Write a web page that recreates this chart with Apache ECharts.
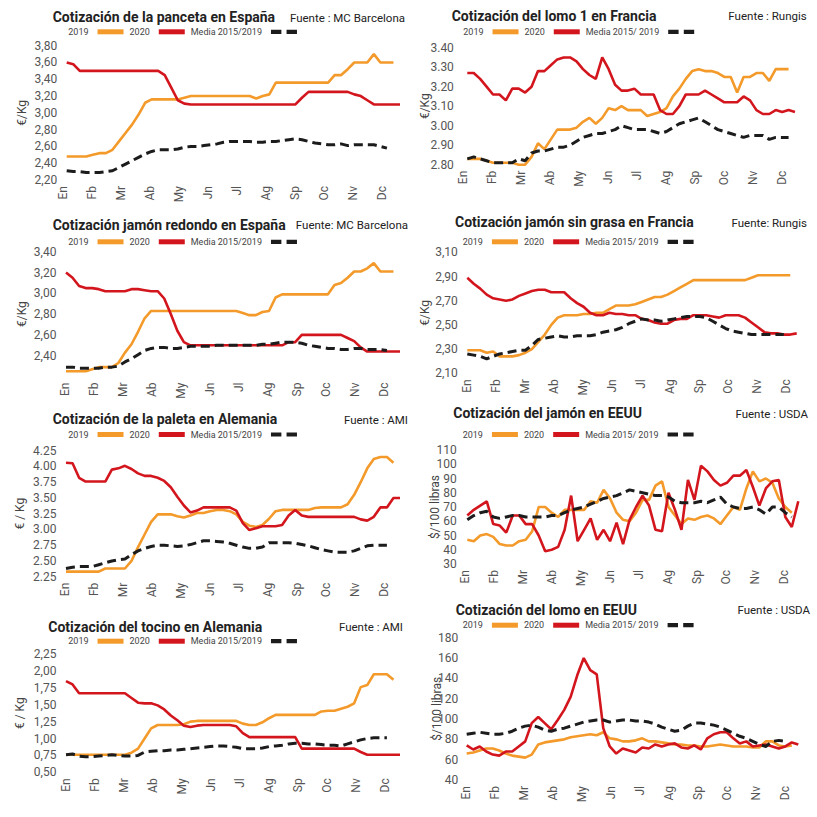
<!DOCTYPE html>
<html><head><meta charset="utf-8">
<script src="https://cdn.jsdelivr.net/npm/echarts@6/dist/echarts.min.js"></script>
<style>html,body{margin:0;padding:0;background:#fff}#c{width:817px;height:817px}</style>
</head><body><div id="c"></div>
<script>
// ---------- tick labels / categories ----------
const months = ['En','Fb','Mr','Ab','My','Jn','Jl','Ag','Sp','Oc','Nv','Dc'];
const name2019 = '2019';
const name2020 = '2020';
const nameMediaL = 'Media 2015/2019';
const nameMediaR = 'Media 2015/ 2019';

// ---------- data (weekly values) ----------
// Panceta España (€/Kg)
const panceta2019 = [2.48,2.48,2.48,2.48,2.50,2.52,2.52,2.56,2.66,2.76,2.86,2.98,3.12,3.16,3.16,3.16,3.16,3.16,3.18,3.20,3.20,3.20,3.20,3.20,3.20,3.20,3.20,3.20,3.20,3.17,3.20,3.22,3.36,3.36,3.36,3.36,3.36,3.36,3.36,3.36,3.36,3.45,3.45,3.52,3.60,3.60,3.60,3.70,3.60,3.60,3.60];
const panceta2020 = [3.60,3.58,3.50,3.50,3.50,3.50,3.50,3.50,3.50,3.50,3.50,3.50,3.50,3.50,3.50,3.45,3.30,3.15,3.11,3.10,3.10,3.10,3.10,3.10,3.10,3.10,3.10,3.10,3.10,3.10,3.10,3.10,3.10,3.10,3.10,3.10,3.18,3.25,3.25,3.25,3.25,3.25,3.25,3.25,3.22,3.20,3.15,3.10,3.10,3.10,3.10,3.10];
const pancetaMedia = [2.31,2.30,2.30,2.29,2.29,2.29,2.30,2.31,2.35,2.39,2.43,2.47,2.51,2.54,2.56,2.56,2.56,2.57,2.59,2.60,2.60,2.61,2.62,2.63,2.65,2.66,2.66,2.66,2.66,2.65,2.65,2.66,2.66,2.67,2.68,2.69,2.68,2.66,2.64,2.63,2.62,2.62,2.63,2.61,2.62,2.62,2.62,2.62,2.60,2.58];
// Lomo 1 Francia (€/Kg)
const lomoFr2019 = [2.83,2.83,2.83,2.82,2.81,2.81,2.81,2.81,2.80,2.80,2.84,2.91,2.88,2.93,2.98,2.98,2.98,2.99,3.02,3.04,3.01,3.04,3.09,3.08,3.10,3.08,3.08,3.08,3.05,3.06,3.07,3.09,3.15,3.19,3.24,3.28,3.29,3.28,3.28,3.27,3.25,3.25,3.17,3.25,3.25,3.27,3.27,3.23,3.29,3.29,3.29];
const lomoFr2020 = [3.27,3.27,3.24,3.20,3.16,3.16,3.13,3.19,3.19,3.17,3.20,3.28,3.28,3.31,3.34,3.35,3.35,3.33,3.29,3.26,3.24,3.35,3.29,3.21,3.18,3.18,3.19,3.16,3.16,3.16,3.08,3.06,3.06,3.10,3.16,3.16,3.16,3.18,3.16,3.14,3.12,3.12,3.12,3.15,3.13,3.08,3.06,3.06,3.08,3.07,3.08,3.07];
const lomoFrMedia = [2.83,2.84,2.83,2.82,2.81,2.81,2.81,2.81,2.83,2.82,2.86,2.87,2.87,2.88,2.89,2.89,2.90,2.92,2.94,2.95,2.96,2.96,2.97,2.98,3.00,2.99,2.98,2.98,2.98,2.97,2.96,2.97,2.99,3.01,3.02,3.03,3.04,3.02,3.00,2.98,2.97,2.96,2.95,2.94,2.95,2.95,2.95,2.93,2.94,2.94,2.94];
// Jamón redondo España (€/Kg)
const jamonEs2019 = [2.25,2.25,2.25,2.25,2.27,2.29,2.29,2.29,2.33,2.43,2.51,2.63,2.76,2.83,2.83,2.83,2.83,2.83,2.83,2.83,2.83,2.83,2.83,2.83,2.83,2.83,2.83,2.81,2.79,2.79,2.82,2.83,2.96,2.99,2.99,2.99,2.99,2.99,2.99,2.99,2.99,3.08,3.10,3.15,3.21,3.21,3.24,3.29,3.21,3.21,3.21];
const jamonEs2020 = [3.20,3.15,3.07,3.05,3.05,3.04,3.02,3.02,3.02,3.02,3.04,3.04,3.03,3.02,3.02,2.95,2.80,2.64,2.53,2.50,2.50,2.50,2.50,2.50,2.50,2.50,2.50,2.50,2.50,2.50,2.50,2.50,2.50,2.50,2.53,2.53,2.60,2.60,2.60,2.60,2.60,2.60,2.60,2.57,2.54,2.48,2.44,2.44,2.44,2.44,2.44,2.44];
const jamonEsMedia = [2.29,2.29,2.28,2.28,2.28,2.28,2.29,2.29,2.30,2.34,2.37,2.41,2.45,2.47,2.48,2.48,2.47,2.47,2.48,2.49,2.49,2.49,2.49,2.50,2.50,2.50,2.50,2.50,2.50,2.50,2.51,2.51,2.52,2.53,2.53,2.53,2.52,2.50,2.49,2.48,2.47,2.47,2.46,2.46,2.47,2.47,2.46,2.46,2.46,2.45];
// Jamón sin grasa Francia (€/Kg)
const jamonFr2019 = [2.29,2.29,2.29,2.27,2.28,2.24,2.24,2.24,2.25,2.27,2.30,2.36,2.42,2.50,2.56,2.58,2.58,2.58,2.59,2.59,2.60,2.60,2.63,2.66,2.66,2.66,2.67,2.69,2.71,2.73,2.73,2.75,2.78,2.81,2.84,2.87,2.87,2.87,2.87,2.87,2.87,2.87,2.87,2.87,2.89,2.91,2.91,2.91,2.91,2.91,2.91];
const jamonFr2020 = [2.89,2.84,2.80,2.75,2.72,2.71,2.70,2.71,2.74,2.76,2.78,2.79,2.79,2.77,2.77,2.77,2.72,2.68,2.65,2.60,2.58,2.58,2.60,2.59,2.59,2.58,2.58,2.55,2.54,2.52,2.51,2.51,2.54,2.55,2.55,2.58,2.58,2.58,2.57,2.56,2.58,2.58,2.58,2.56,2.52,2.48,2.44,2.43,2.43,2.42,2.42,2.43];
const jamonFrMedia = [2.26,2.25,2.24,2.22,2.24,2.26,2.27,2.28,2.29,2.29,2.33,2.38,2.39,2.40,2.41,2.40,2.40,2.41,2.41,2.41,2.42,2.44,2.45,2.46,2.48,2.51,2.53,2.55,2.54,2.54,2.53,2.54,2.55,2.56,2.57,2.57,2.57,2.56,2.53,2.50,2.47,2.45,2.44,2.43,2.42,2.42,2.42,2.42,2.42,2.42];
// Paleta Alemania (€/Kg)
const paleta2019 = [2.33,2.33,2.33,2.33,2.33,2.33,2.38,2.38,2.38,2.38,2.50,2.72,2.92,3.12,3.24,3.24,3.24,3.21,3.19,3.22,3.26,3.26,3.29,3.31,3.31,3.29,3.24,3.12,3.06,3.04,3.07,3.17,3.29,3.31,3.31,3.31,3.31,3.31,3.34,3.35,3.35,3.35,3.35,3.40,3.55,3.75,3.97,4.12,4.15,4.15,4.06];
const paleta2020 = [4.06,4.05,3.82,3.76,3.76,3.76,3.76,3.95,3.97,4.01,3.96,3.89,3.85,3.85,3.82,3.77,3.67,3.52,3.38,3.27,3.30,3.35,3.35,3.35,3.35,3.35,3.30,3.10,2.99,3.02,3.05,3.05,3.05,3.07,3.22,3.31,3.22,3.20,3.20,3.20,3.20,3.20,3.20,3.20,3.20,3.16,3.14,3.20,3.35,3.35,3.50,3.50];
const paletaMedia = [2.38,2.40,2.41,2.41,2.41,2.44,2.47,2.50,2.52,2.53,2.60,2.66,2.70,2.73,2.75,2.75,2.74,2.73,2.74,2.76,2.79,2.82,2.82,2.81,2.80,2.78,2.75,2.72,2.70,2.70,2.72,2.79,2.79,2.79,2.79,2.78,2.76,2.74,2.71,2.68,2.66,2.64,2.64,2.64,2.66,2.70,2.74,2.75,2.75,2.75];
// Jamón EEUU ($/100 libras)
const jamonUs2019 = [47,46,50,51,49,44,43,43,46,47,53,70,70,66,63,68,68,68,68,74,73,82,76,66,61,60,66,75,75,85,88,70,64,58,62,61,63,64,62,58,64,70,68,83,95,88,90,87,76,70,66];
const jamonUs2020 = [64,68,71,74,58,57,52,64,64,58,58,50,39,40,42,54,78,46,54,62,47,54,46,59,44,61,70,78,71,54,53,80,68,54,89,75,99,95,89,85,87,92,92,96,84,71,83,88,89,63,56,74];
const jamonUsMedia = [61,64,66,67,63,62,63,64,64,63,63,63,63,64,64,66,68,69,70,72,74,76,77,78,80,82,81,80,79,78,78,77,74,73,73,73,74,73,75,77,72,70,69,69,70,68,65,70,70,66,63];
// Tocino Alemania (€/Kg)
const tocino2019 = [0.76,0.76,0.76,0.76,0.76,0.76,0.76,0.76,0.76,0.76,0.79,0.85,1.00,1.15,1.20,1.20,1.20,1.20,1.21,1.25,1.26,1.26,1.26,1.26,1.26,1.26,1.26,1.22,1.20,1.20,1.24,1.30,1.35,1.35,1.35,1.35,1.35,1.35,1.35,1.40,1.41,1.41,1.44,1.47,1.52,1.76,1.79,1.95,1.95,1.95,1.87];
const tocino2020 = [1.85,1.80,1.67,1.67,1.67,1.67,1.67,1.67,1.67,1.67,1.60,1.53,1.52,1.52,1.49,1.43,1.34,1.27,1.19,1.17,1.19,1.20,1.20,1.20,1.20,1.20,1.18,1.08,1.02,1.02,1.02,1.02,1.02,1.02,1.02,1.02,0.85,0.85,0.85,0.85,0.85,0.85,0.85,0.85,0.85,0.80,0.76,0.76,0.76,0.76,0.76,0.76];
const tocinoMedia = [0.76,0.77,0.74,0.73,0.73,0.74,0.75,0.76,0.75,0.74,0.74,0.75,0.80,0.81,0.82,0.82,0.83,0.83,0.84,0.85,0.86,0.87,0.88,0.89,0.89,0.88,0.87,0.85,0.85,0.85,0.86,0.88,0.89,0.90,0.92,0.93,0.93,0.92,0.92,0.91,0.90,0.90,0.89,0.92,0.95,0.98,1.00,1.01,1.01,1.01];
// Lomo EEUU ($/100 libras)
const lomoUs2019 = [66,67,69,71,71,69,66,64,63,62,65,75,77,78,79,80,82,83,84,85,84,87,81,80,78,78,79,81,78,78,77,76,75,75,74,74,73,73,74,75,74,73,73,73,72,72,78,78,74,73,74];
const lomoUs2020 = [74,70,73,68,65,64,68,68,73,78,96,102,96,90,99,109,122,143,160,148,144,91,73,66,71,69,67,72,71,75,73,75,76,72,71,74,70,81,85,87,87,81,76,78,73,74,75,73,71,73,77,75];
const lomoUsMedia = [85,86,87,86,85,85,86,88,91,93,94,92,89,88,90,91,93,95,97,98,99,99,97,98,99,99,98,98,97,95,92,90,88,89,93,96,96,95,94,92,89,86,83,81,78,75,73,78,79,78];

// ---------- styles ----------
const ORANGE = '#F39A2B', RED = '#D3161D', BLACK = '#1c1c1c';
const FONT = 'Roboto';

// ---------- panel layout ----------
const panels = [
 {title:'Cotización de la panceta en España', src:'Fuente : MC Barcelona', yName:'€/Kg', d:[panceta2019,panceta2020,pancetaMedia], media:nameMediaL,
  min:2.2,max:3.8,step:0.2,dec:',',dig:2, x0:66.7,x1:400,en:63.3,yTop:45.7,yBot:180, tx:52.7,ty:17, sx:405,sy:18, lx:68.3,ly:33.3, nx:22, lm:3},
 {title:'Cotización del lomo 1 en Francia', src:'Fuente : Rungis', yName:'€/Kg', d:[lomoFr2019,lomoFr2020,lomoFrMedia], media:nameMediaR,
  min:2.8,max:3.4,step:0.1,dec:'.',dig:2, x0:467.3,x1:795,en:463.3,yTop:47.7,yBot:164.7, tx:451.7,ty:16, sx:806.7,sy:16, lx:463.3,ly:33.3, nx:425, lm:7},
 {title:'Cotización jamón redondo en España', src:'Fuente: MC Barcelona', yName:'€/Kg', d:[jamonEs2019,jamonEs2020,jamonEsMedia], media:nameMediaL,
  min:2.2,max:3.4,step:0.2,dec:',',dig:2,hideMin:true, x0:66,x1:400,en:65,yTop:251.7,yBot:376.5, tx:52.7,ty:225, sx:408,sy:225, lx:68.3,ly:243.3, nx:22, lm:3},
 {title:'Cotización jamón sin grasa en Francia', src:'Fuente: Rungis', yName:'€/Kg', d:[jamonFr2019,jamonFr2020,jamonFrMedia], media:nameMediaR,
  min:2.1,max:3.1,step:0.2,dec:',',dig:2, x0:467.3,x1:796.7,en:466.7,yTop:252.3,yBot:373.3, tx:455,ty:221.7, sx:807,sy:222.7, lx:462.7,ly:243.3, nx:425, lm:3},
 {title:'Cotización de la paleta en Alemania', src:'Fuente : AMI', yName:'€ / Kg', d:[paleta2019,paleta2020,paletaMedia], media:nameMediaL,
  min:2.25,max:4.25,step:0.25,dec:'.',dig:2, x0:66,x1:400,en:65,yTop:450.7,yBot:576.7, tx:52.7,ty:419, sx:408,sy:420, lx:68.3,ly:436, nx:20, lm:3},
 {title:'Cotización del jamón en EEUU', src:'Fuente : USDA', yName:'$/100 libras', d:[jamonUs2019,jamonUs2020,jamonUsMedia], media:nameMediaR,
  min:30,max:110,step:10,dec:'.',dig:0, x0:467.3,x1:798.3,en:465,yTop:450,yBot:564, tx:453.3,ty:413.3, sx:808,sy:414, lx:462.7,ly:436, nx:435, lm:4},
 {title:'Cotización del tocino en Alemania', src:'Fuente : AMI', yName:'€ / Kg', d:[tocino2019,tocino2020,tocinoMedia], media:nameMediaL,
  min:0.5,max:2.25,step:0.25,dec:',',dig:2, x0:66,x1:400,en:66,yTop:654,yBot:772.3, tx:48.3,ty:626.7, sx:403,sy:627.3, lx:68.3,ly:642.7, nx:20, lm:3},
 {title:'Cotización del lomo en EEUU', src:'Fuente : USDA', yName:'$/100 libras', d:[lomoUs2019,lomoUs2020,lomoUsMedia], media:nameMediaR,
  min:40,max:180,step:20,dec:'.',dig:0, x0:466.7,x1:798.3,en:466,yTop:637.7,yBot:780, tx:455.7,ty:610, sx:810,sy:610, lx:462.7,ly:626.7, nx:437, lm:2}
];

const grids = [], xAxes = [], yAxes = [], series = [], legends = [], graphics = [];
const MONTH_PX = 29.0;
panels.forEach((p, i) => {
  const pxw = (p.x1 - p.x0) / 51;
  grids.push({left: p.x0 - pxw, width: 53 * pxw, top: p.yTop, height: p.yBot - p.yTop});
  const start = (p.en - p.x0) / pxw, stepW = MONTH_PX / pxw;
  const custom = months.map((m, k) => start + k * stepW);
  xAxes.push({
    gridIndex: i, type: 'value', min: -1, max: 52,
    axisLine: {show: false}, axisTick: {show: false}, splitLine: {show: false},
    axisLabel: {
      customValues: custom, rotate: 90, margin: 6, fontSize: 12, color: '#555', fontFamily: FONT,
      formatter: v => months[Math.max(0, Math.min(11, Math.round((v - start) / stepW)))]
    }
  });
  yAxes.push({
    gridIndex: i, type: 'value', min: p.min, max: p.max, interval: p.step,
    axisLine: {show: false}, axisTick: {show: false}, splitLine: {show: false},
    axisLabel: {
      fontSize: 12, color: '#555', fontFamily: FONT, margin: p.lm, showMinLabel: !p.hideMin,
      formatter: v => v.toFixed(p.dig).replace('.', p.dec)
    }
  });
  const mk = (arr) => arr.map((v, k) => [k, v]);
  series.push(
    {type: 'line', name: name2019, xAxisIndex: i, yAxisIndex: i, data: mk(p.d[0]), symbol: 'none', z: 2,
     lineStyle: {color: ORANGE, width: 2.6}, itemStyle: {color: ORANGE}},
    {type: 'line', name: name2020, xAxisIndex: i, yAxisIndex: i, data: mk(p.d[1]), symbol: 'none', z: 3,
     lineStyle: {color: RED, width: 2.6}, itemStyle: {color: RED}},
    {type: 'line', name: p.media, xAxisIndex: i, yAxisIndex: i, data: mk(p.d[2]), symbol: 'none', z: 4,
     lineStyle: {color: BLACK, width: 3, type: [9, 5]}, itemStyle: {color: BLACK}}
  );
  legends.push({
    left: p.lx, top: p.ly - 6, padding: 0, align: 'right', itemGap: 6, itemWidth: 26, itemHeight: 5,
    selectedMode: false,
    textStyle: {fontSize: 9, color: '#444', fontFamily: FONT, padding: [0, 4, 0, 0]},
    itemStyle: {borderWidth: 0},
    data: [
      {name: name2019, icon: 'rect', itemStyle: {color: ORANGE}},
      {name: name2020, icon: 'rect', itemStyle: {color: RED}},
      {name: p.media, icon: 'path://M0,0h10v4h-10z M15,0h10v4h-10z', itemStyle: {color: BLACK}}
    ]
  });
  graphics.push(
    {type: 'text', x: p.tx, y: p.ty, style: {text: p.title, font: 'bold 14px ' + FONT, fill: '#222', align: 'left', verticalAlign: 'middle'}},
    {type: 'text', x: p.sx, y: p.sy, style: {text: p.src, font: '11.5px ' + FONT, fill: '#222', align: 'right', verticalAlign: 'middle'}},
    {type: 'text', x: p.nx, y: (p.yTop + p.yBot) / 2, rotation: Math.PI / 2,
     style: {text: p.yName, font: '12px ' + FONT, fill: '#444', align: 'center', verticalAlign: 'middle'}}
  );
});

const chart = echarts.init(document.getElementById('c'), null, {renderer: 'svg'});
chart.setOption({
  backgroundColor: '#fff',
  animation: false,
  grid: grids, xAxis: xAxes, yAxis: yAxes, series: series, legend: legends, graphic: graphics
});
</script></body></html>
